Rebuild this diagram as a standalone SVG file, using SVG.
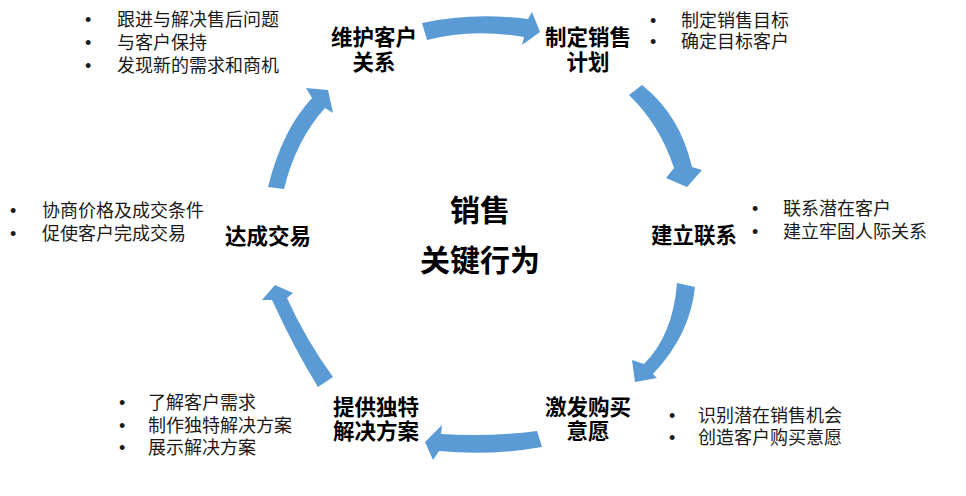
<svg xmlns="http://www.w3.org/2000/svg" width="966" height="496" viewBox="0 0 966 496">
<style>
.arrow{fill:#5B9BD5;stroke:none}
.lbl{font-family:"Noto Sans CJK SC","Liberation Sans",sans-serif;font-size:21.5px;font-weight:bold;fill:#000;text-anchor:middle}
.ctr{font-family:"Noto Sans CJK SC","Liberation Sans",sans-serif;font-size:30px;font-weight:bold;fill:#000;text-anchor:middle}
.txt{font-family:"Noto Sans CJK SC","Liberation Sans",sans-serif;font-size:18px;fill:#1a1a1a}
.b{font-family:"Liberation Sans",sans-serif;font-size:18px}
</style>
<rect width="966" height="496" fill="#fff"/>
<g id="connectors">
<path class="arrow" d="M422,23 Q472,12 528,19 L532,12 L540,32 L522,45 L524,37 Q472,28 427,40 Z"/>
<path class="arrow" d="M629,95 Q660,125 674,168 L666,178 L687,187 L702,170 L692,167 Q680,115 642,85 Z"/>
<path class="arrow" d="M677,283 Q673,335 644,364 L632,360 L635,382 L657,378 L653,374 Q690,335 695,287 Z"/>
<path class="arrow" d="M537,431 Q490,437 441,434 L442,425 L425,442 L433,460 L439,451 Q490,456 542,447 Z"/>
<path class="arrow" d="M318,387 Q295,350 272,300 L262,300 L275,285 L293,293 L287,298 Q306,340 333,377 Z"/>
<path class="arrow" d="M268,187 Q282,130 312,98 L306,88 L328,90 L333,113 L325,108 Q296,140 284,189 Z"/>
</g>
<g id="center">
<text class="ctr"><tspan x="480" y="221">销售</tspan><tspan x="480" y="271">关键行为</tspan></text>
</g>
<g id="node-maintain">
<text class="lbl"><tspan x="374" y="45">维护客户</tspan><tspan x="374" y="70">关系</tspan></text>
<text class="txt"><tspan class="b" x="85" y="26">•</tspan><tspan x="117" y="26">跟进与解决售后问题</tspan><tspan class="b" x="85" y="49">•</tspan><tspan x="117" y="49">与客户保持</tspan><tspan class="b" x="85" y="72">•</tspan><tspan x="117" y="72">发现新的需求和商机</tspan></text>
</g>
<g id="node-plan">
<text class="lbl"><tspan x="588" y="45">制定销售</tspan><tspan x="588" y="70">计划</tspan></text>
<text class="txt"><tspan class="b" x="650" y="27">•</tspan><tspan x="681" y="27">制定销售目标</tspan><tspan class="b" x="650" y="48">•</tspan><tspan x="681" y="48">确定目标客户</tspan></text>
</g>
<g id="node-contact">
<text class="lbl" x="694" y="243">建立联系</text>
<text class="txt"><tspan class="b" x="752" y="215">•</tspan><tspan x="783" y="215">联系潜在客户</tspan><tspan class="b" x="752" y="238">•</tspan><tspan x="783" y="238">建立牢固人际关系</tspan></text>
</g>
<g id="node-desire">
<text class="lbl"><tspan x="588" y="415">激发购买</tspan><tspan x="588" y="439">意愿</tspan></text>
<text class="txt"><tspan class="b" x="669" y="422">•</tspan><tspan x="698" y="422">识别潜在销售机会</tspan><tspan class="b" x="669" y="444">•</tspan><tspan x="698" y="444">创造客户购买意愿</tspan></text>
</g>
<g id="node-solution">
<text class="lbl"><tspan x="376" y="415">提供独特</tspan><tspan x="376" y="439">解决方案</tspan></text>
<text class="txt"><tspan class="b" x="119" y="409">•</tspan><tspan x="148" y="409">了解客户需求</tspan><tspan class="b" x="119" y="432">•</tspan><tspan x="148" y="432">制作独特解决方案</tspan><tspan class="b" x="119" y="454">•</tspan><tspan x="148" y="454">展示解决方案</tspan></text>
</g>
<g id="node-deal">
<text class="lbl" x="268" y="244">达成交易</text>
<text class="txt"><tspan class="b" x="10" y="217">•</tspan><tspan x="42" y="217">协商价格及成交条件</tspan><tspan class="b" x="10" y="240">•</tspan><tspan x="42" y="240">促使客户完成交易</tspan></text>
</g>
</svg>
